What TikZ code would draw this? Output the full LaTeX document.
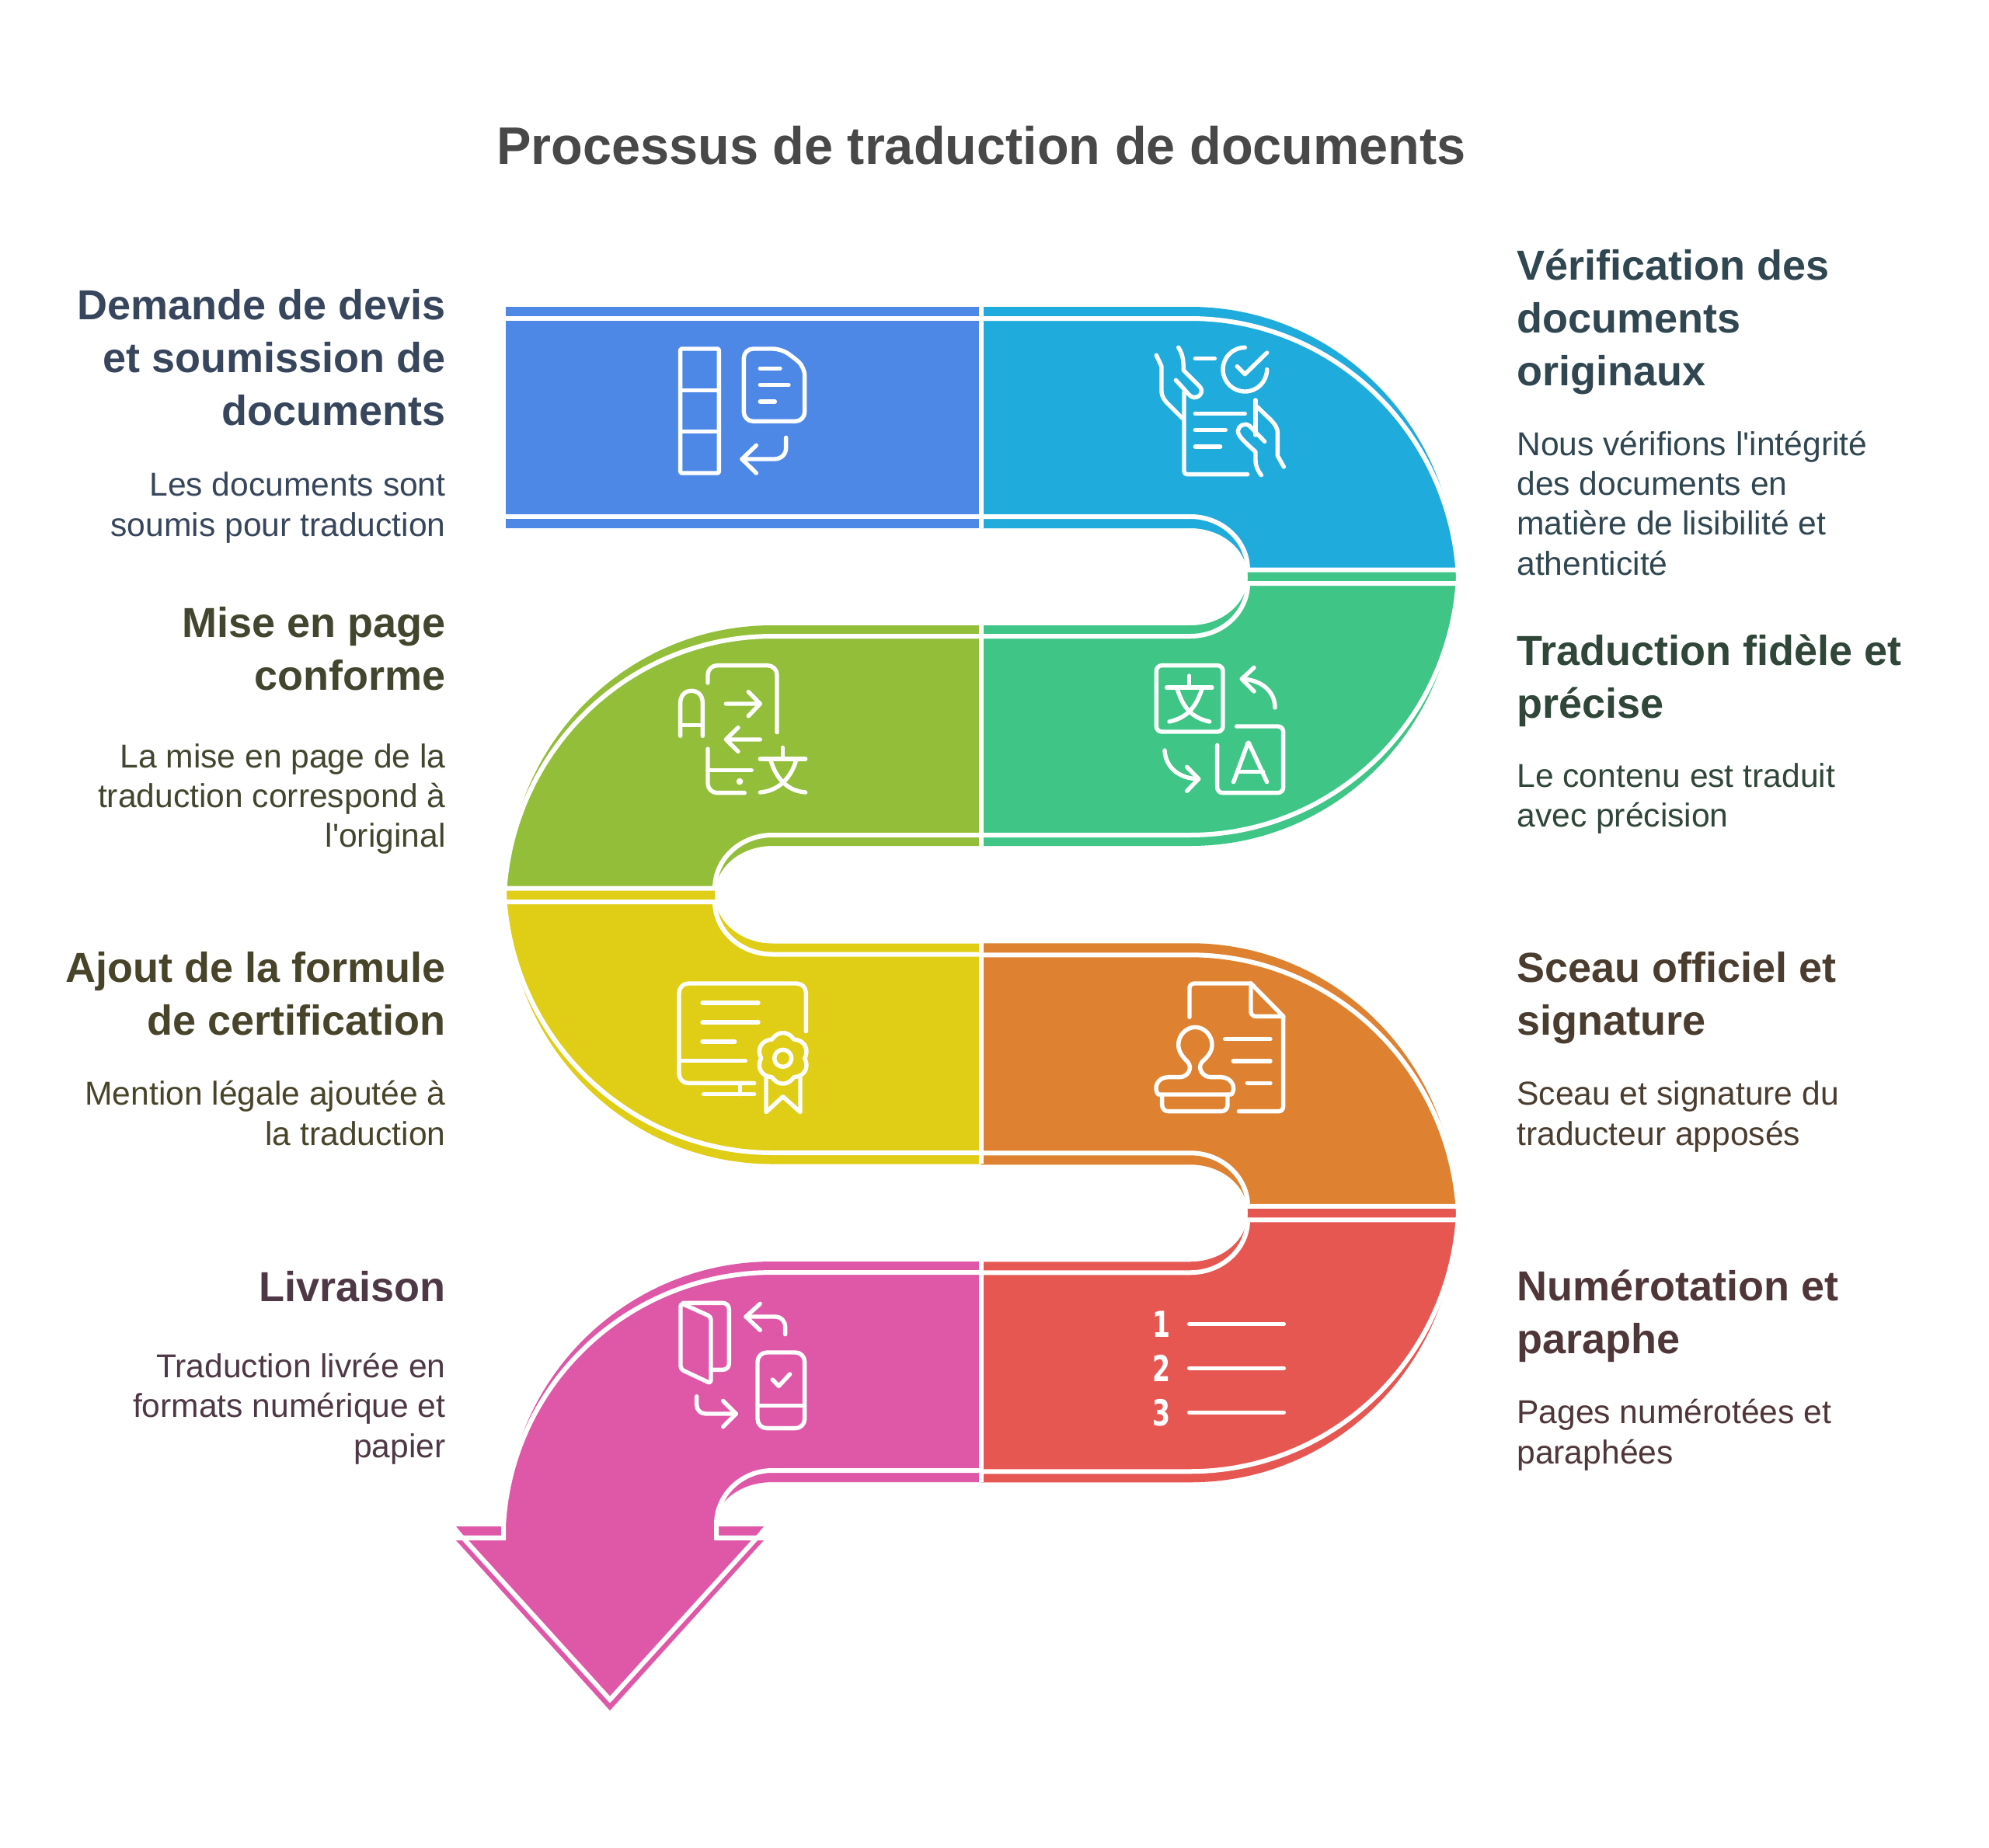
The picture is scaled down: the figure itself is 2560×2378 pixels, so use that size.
\documentclass[tikz,border=0pt]{standalone}
\usepackage{fontspec}
\setmainfont[Ligatures=TeXOff]{Liberation Sans}
\newfontfamily\numfont[FakeStretch=0.72]{DejaVu Sans}
\definecolor{cBlue}{HTML}{4E88E7}
\definecolor{cCyan}{HTML}{1FACDC}
\definecolor{cGreen}{HTML}{3FC686}
\definecolor{cOlive}{HTML}{93BE3A}
\definecolor{cYellow}{HTML}{E0CD15}
\definecolor{cOrange}{HTML}{DE8231}
\definecolor{cRed}{HTML}{E65752}
\definecolor{cMagenta}{HTML}{DE58A7}
\definecolor{tTitle}{HTML}{484848}
\definecolor{tBlue}{HTML}{37465C}
\definecolor{tCyan}{HTML}{304650}
\definecolor{tGreen}{HTML}{2F4639}
\definecolor{tOlive}{HTML}{43462E}
\definecolor{tYellow}{HTML}{47442A}
\definecolor{tOrange}{HTML}{4A3D2F}
\definecolor{tRed}{HTML}{4F3639}
\definecolor{tMagenta}{HTML}{4F3846}
\tikzset{
  edge/.style={draw=white,line width=3pt,miter limit=20},
  headL/.style={anchor=base east,align=right,inner sep=0pt,font=\bfseries\fontsize{27}{34.1}\selectfont},
  headR/.style={anchor=base west,align=left,inner sep=0pt,font=\bfseries\fontsize{27}{34.1}\selectfont},
  bodyL/.style={anchor=base east,align=right,inner sep=0pt,font=\fontsize{21.3}{25.6}\selectfont},
  bodyR/.style={anchor=base west,align=left,inner sep=0pt,font=\fontsize{21.3}{25.6}\selectfont},
  icon/.style={shift={#1},x=0.1666667pt,y=-0.1666667pt,draw=white,line width=2.7pt,line cap=round,line join=round},
  digit/.style={draw=none,text=white,anchor=base,inner sep=0pt,font=\numfont\bfseries\fontsize{23}{23}\selectfont},
}
% right-hand turn: offset, upper colour, lower colour
\newcommand{\turnR}[3]{%
\begin{scope}[shift={(0,#1)}]
\fill[#2] (1263,395) -- (1532,395) .. controls (1721,395) and (1874,551) .. (1874,742.5) -- (1606,742.5) .. controls (1606,708) and (1573,680) .. (1532,680) -- (1263,680) -- cycle;
\fill[#3] (1606,733.5) -- (1874,733.5) -- (1874,742.5) .. controls (1874,934) and (1721,1089) .. (1532,1089) -- (1263,1089) -- (1263,805) -- (1532,805) .. controls (1573,805) and (1606,777) .. (1606,742.5) -- cycle;
\draw[edge] (1263,410) -- (1532,410) -- plot[smooth,domain=90:0,samples=37] ({1532+(345-18*sin(\x))*cos(\x)},{742.5-(350.5-18*sin(\x))*sin(\x)});
\draw[edge] (1878,733.5) -- (1606,733.5) .. controls (1606,696) and (1573,665) .. (1532,665) -- (1263,665);
\draw[edge] (1878,751) -- (1606,751) .. controls (1606,788.5) and (1573,819) .. (1532,819) -- (1263,819);
\draw[edge] (1263,1075) -- (1532,1075) -- plot[smooth,domain=90:0,samples=37] ({1532+(345-17*sin(\x))*cos(\x)},{742.5+(349.5-17*sin(\x))*sin(\x)});
\end{scope}}
% left-hand turn: upper colour, lower colour
\newcommand{\turnL}[2]{%
\fill[#1] (1263,805) -- (994,805) .. controls (805,805) and (652,960) .. (652,1151.5) -- (920,1151.5) .. controls (920,1117) and (953,1089) .. (994,1089) -- (1263,1089) -- cycle;
\fill[#2] (920,1143.5) -- (652,1143.5) -- (652,1151.5) .. controls (652,1343) and (805,1498.5) .. (994,1498.5) -- (1263,1498.5) -- (1263,1214.5) -- (994,1214.5) .. controls (953,1214.5) and (920,1186) .. (920,1151.5) -- cycle;
\draw[edge] (1263,819) -- (994,819) -- plot[smooth,domain=90:0,samples=37] ({994-(345-17*sin(\x))*cos(\x)},{1151.5-(349.5-17*sin(\x))*sin(\x)});
\draw[edge] (648,1143.5) -- (920,1143.5) .. controls (920,1106) and (953,1075) .. (994,1075) -- (1263,1075);
\draw[edge] (648,1161) -- (920,1161) .. controls (920,1198) and (953,1228.5) .. (994,1228.5) -- (1263,1228.5);
\draw[edge] (1263,1484) -- (994,1484) -- plot[smooth,domain=90:0,samples=37] ({994-(345-17.5*sin(\x))*cos(\x)},{1151.5+(350-17.5*sin(\x))*sin(\x)});}
\begin{document}
\begin{tikzpicture}[x=0.5pt,y=-0.5pt]
\useasboundingbox (0,0) rectangle (2560,2378);
\fill[white] (0,0) rectangle (2560,2378);
% title
\node[anchor=base,inner sep=0pt,text=tTitle,font=\addfontfeatures{FakeStretch=0.98}\bfseries\fontsize{34}{40}\selectfont] (title) at (1263,211) {Processus de traduction de documents};
% ribbon
\fill[cBlue] (651,395) rectangle (1263,680);
\draw[edge] (651,410) -- (1263,410);
\draw[edge] (651,665) -- (1263,665);
\turnR{0}{cCyan}{cGreen}
\turnL{cOlive}{cYellow}
\turnR{819.25}{cOrange}{cRed}
\draw[edge] (1263,395) -- (1263,680);
\draw[edge] (1263,805) -- (1263,1089);
\draw[edge] (1263,1214) -- (1263,1498);
% arrow
\fill[cMagenta] (1263,1624) -- (994,1624) .. controls (805,1624) and (651,1777) .. (651,1965) -- (651,1983) -- (587,1983) -- (785,2202) -- (983,1983) -- (920,1983) -- (920,1965) .. controls (920,1933) and (953,1908) .. (994,1908) -- (1263,1908) -- cycle;
\fill[cMagenta] (587,1965) -- (651,1965) -- (651,1977) -- (597,1977) -- cycle;
\fill[cMagenta] (920,1965) -- (983,1965) -- (973,1977) -- (920,1977) -- cycle;
\draw[edge] (1263,1638) -- (994,1638) -- plot[smooth,domain=90:0,samples=37] ({994-(346-17*sin(\x))*cos(\x)},{1965-(344-17*sin(\x))*sin(\x)}) -- (648,1979.7) -- (596,1979.7) -- (785,2188) -- (974,1979.7) -- (922,1979.7) -- (922,1962) .. controls (922,1925) and (954,1893) .. (994,1893) -- (1263,1893);
\draw[edge] (1263,1624) -- (1263,1908);
% icon 1
\begin{scope}[icon={(840,420)}]
\draw[rounded corners=1pt] (107,87) rectangle (256,567);
\draw (107,247) -- (256,247) (107,407) -- (256,407);
\draw[rounded corners=6pt] (352,87) -- (500,87) -- (587,155) -- (587,367) -- (352,367) -- cycle;
\draw (415,163) -- (492,163) (415,227) -- (525,227) (415,291) -- (472,291);
\draw (515,430) -- (515,470) .. controls (515,495) and (495,513) .. (470,513) -- (345,513);
\draw (400,460) -- (345,513) -- (400,567);
\end{scope}
% icon 2
\begin{scope}[icon={(1460,420)}]
\draw (85,112) -- (105,155) -- (105,250) .. controls (105,275) and (120,290) .. (135,305) -- (185,355);
\draw (170,82) .. controls (185,105) and (190,125) .. (190,170) -- (250,230) .. controls (270,250) and (255,275) .. (230,275) .. controls (215,275) and (205,255) .. (160,208);
\draw (192,255) -- (192,560) .. controls (192,568) and (197,572) .. (205,572) -- (437,572);
\draw (235,124) -- (310,124);
\draw (235,337) -- (427,337) (235,401) -- (352,401) (235,465) -- (332,465);
\draw (427,82) .. controls (380,82) and (342,120) .. (342,167) .. controls (342,214) and (380,252) .. (427,252) .. controls (474,252) and (512,214) .. (512,167);
\draw (397,155) -- (427,185) -- (512,102);
\draw (468,285) -- (468,420);
\draw (468,305) -- (525,360) .. controls (545,380) and (553,395) .. (553,410) -- (553,500) -- (577,543);
\draw (503,445) -- (445,385) .. controls (425,370) and (400,385) .. (400,405) .. controls (400,425) and (430,450) .. (468,485) -- (468,515) .. controls (468,540) and (475,555) .. (490,575);
\end{scope}
% icon 3
\begin{scope}[icon={(1460,830)}]
\draw[rounded corners=3.5pt] (85,80) rectangle (342,336);
\draw (125,165) -- (300,165) (212,120) -- (212,165);
\draw (165,168) .. controls (185,235) and (215,280) .. (290,297);
\draw (262,168) .. controls (240,235) and (210,280) .. (135,297);
\draw (543,243) .. controls (543,180) and (490,135) .. (415,132);
\draw (462,88) -- (415,132) -- (462,180);
\draw[rounded corners=3.5pt] (395,315) -- (575,315) -- (575,572) -- (320,572) -- (320,388);
\draw[rounded corners=1pt] (383,530) -- (440,375) -- (512,530);
\draw (403,490) -- (497,490);
\draw (117,408) .. controls (120,470) and (170,518) .. (248,518);
\draw (203,472) -- (248,518) -- (203,565);
\end{scope}
% icon 4
\begin{scope}[icon={(850,830)}]
\draw[rounded corners=6pt] (183,147) -- (183,80) -- (450,80) -- (450,338);
\draw (77,352) -- (77,225) .. controls (77,195) and (95,178) .. (120,178) .. controls (145,178) and (163,195) .. (163,225) -- (163,352);
\draw (77,310) -- (163,310);
\draw (253,228) -- (385,228) (340,182) -- (385,228) -- (340,275);
\draw (385,366) -- (253,366) (300,320) -- (253,366) -- (300,412);
\draw[rounded corners=6pt] (183,402) -- (183,572) -- (325,572);
\draw (183,485) -- (352,485);
\fill[white] (306,528) circle[radius=13];
\draw (385,441) -- (560,441) (472,397) -- (472,441);
\draw (425,443) .. controls (445,515) and (490,565) .. (560,570);
\draw (525,443) .. controls (505,515) and (455,565) .. (385,570);
\end{scope}
% icon 5
\begin{scope}[icon={(850,1240)}]
\draw[rounded corners=6pt] (562,263) -- (562,78) -- (72,78) -- (72,463) -- (362,463);
\draw (162,153) -- (378,153) (162,228) -- (378,228) (162,303) -- (287,303) (72,377) -- (328,377);
\draw (307,463) -- (307,506) (167,506) -- (362,506);
\draw (473,367) circle[radius=33];
\draw plot[samples=145,domain=0:357.5] ({473+(84+14*abs(sin(3*\x)))*cos(\x)},{367+(84+14*abs(sin(3*\x)))*sin(\x)}) -- cycle;
\draw (408,435) -- (408,575) -- (473,515) -- (540,575) -- (540,435);
\end{scope}
% icon 6
\begin{scope}[icon={(1460,1240)}]
\draw[rounded corners=3pt] (213,208) -- (213,78) -- (450,78);
\draw (450,78) -- (575,205);
\draw[rounded corners=3pt] (575,205) -- (575,572) -- (403,572);
\draw[rounded corners=3pt] (450,78) -- (450,205) -- (575,205);
\draw (350,293) -- (525,293) (382,378) -- (525,378) (436,463) -- (525,463);
\draw (375,507) .. controls (395,480) and (375,440) .. (335,440) -- (295,440) .. controls (265,440) and (240,405) .. (262,380) .. controls (285,360) and (300,340) .. (300,315) .. controls (300,278) and (270,247) .. (235,247) .. controls (200,247) and (170,278) .. (170,315) .. controls (170,340) and (185,360) .. (205,380) .. controls (228,405) and (205,440) .. (175,440) -- (130,440) .. controls (90,440) and (72,480) .. (92,507) -- cycle;
\draw[rounded corners=4pt] (107,507) -- (107,572) -- (360,572) -- (360,507);
\end{scope}
% icon 7
\begin{scope}[icon={(1460,1650)}]
\draw (212,163) -- (577,163) (212,334) -- (577,334) (212,505) -- (577,505);
\node[digit] (n1) at (106,213) {1};
\node[digit] (n2) at (106,384) {2};
\node[digit] (n3) at (106,555) {3};
\end{scope}
% icon 8
\begin{scope}[icon={(850,1650)}]
\draw[rounded corners=4pt] (88,82) -- (265,82) -- (265,340) -- (195,340);
\draw[rounded corners=2pt] (78,82) -- (195,135) -- (195,393) -- (78,338) -- cycle;
\draw (482,203) -- (482,175) .. controls (482,152) and (465,135) .. (445,135) -- (330,135);
\draw (385,85) -- (330,135) -- (385,187);
\draw[rounded corners=6pt] (375,273) rectangle (557,566);
\draw (375,478) -- (557,478);
\draw (433,378) -- (457,403) -- (500,357);
\draw (140,443) -- (140,475) .. controls (140,495) and (155,510) .. (175,510) -- (292,510);
\draw (242,460) -- (292,510) -- (242,560);
\end{scope}
% texts
\node[headL,text=tBlue] (h1) at (574,547.5) {Demande de devis\\et soumission de\\documents};
\node[bodyL,text=tBlue] (b1) at (574,690) {Les documents sont\\soumis pour traduction};
\node[headR,text=tCyan] (h2) at (1952,496.5) {Vérification des\\documents\\originaux};
\node[bodyR,text=tCyan] (b2) at (1952,740) {Nous vérifions l'intégrité\\des documents en\\matière de lisibilité et\\athenticité};
\node[headR,text=tGreen] (h3) at (1952,924.5) {Traduction fidèle et\\précise};
\node[bodyR,text=tGreen] (b3) at (1952,1064.5) {Le contenu est traduit\\avec précision};
\node[headL,text=tOlive] (h4) at (574,888.5) {Mise en page\\conforme};
\node[bodyL,text=tOlive] (b4) at (574,1090.5) {La mise en page de la\\traduction correspond à\\l'original};
\node[headL,text=tYellow] (h5) at (574,1332.5) {Ajout de la formule\\de certification};
\node[bodyL,text=tYellow] (b5) at (574,1474) {Mention légale ajoutée à\\la traduction};
\node[headR,text=tOrange] (h6) at (1952,1332.5) {Sceau officiel et\\signature};
\node[bodyR,text=tOrange] (b6) at (1952,1474) {Sceau et signature du\\traducteur apposés};
\node[headR,text=tRed] (h7) at (1952,1742.5) {Numérotation et\\paraphe};
\node[bodyR,text=tRed] (b7) at (1952,1884) {Pages numérotées et\\paraphées};
\node[headL,text=tMagenta] (h8) at (574,1675) {Livraison};
\node[bodyL,text=tMagenta] (b8) at (574,1876) {Traduction livrée en\\formats numérique et\\papier};
\end{tikzpicture}
\end{document}
